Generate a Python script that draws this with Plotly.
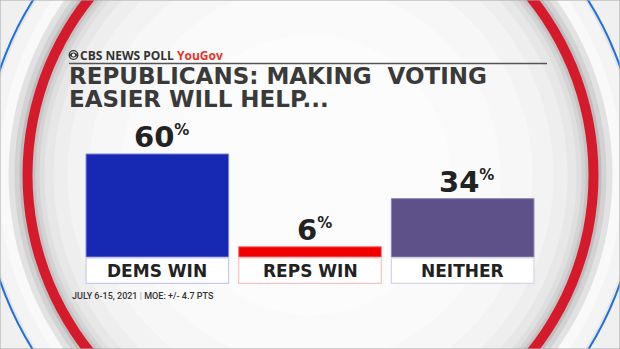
import plotly.graph_objects as go

# ---------------- data ----------------
categories = ["DEMS WIN", "REPS WIN", "NEITHER"]
values = [60, 6, 34]
bar_colors = ["#1728b2", "#f20000", "#5e5189"]
bar_edge = ["#7f86dc", "#ff7070", "#8e84b4"]
box_edge = ["#c6caf0", "#f6c4c4", "#d8d4e8"]
title_lines = ["REPUBLICANS: MAKING  VOTING", "EASIER WILL HELP..."]
header_text = "CBS NEWS POLL"
header_brand = "YouGov"
footer_left = "JULY 6-15, 2021"
footer_right = "MOE: +/- 4.7 PTS"

W, H = 620, 349
BOLD = "DejaVu Sans"
DARK = "#333333"
GAP = 0.066


def px(x):
    return x / W


def py(y):
    return 1 - y / H


def circle(cx, cy, r, fill=None, line_color=None, line_width=0):
    return dict(
        type="circle", xref="paper", yref="paper", layer="below",
        x0=px(cx - r), x1=px(cx + r), y0=py(cy + r), y1=py(cy - r),
        fillcolor=fill if fill else "rgba(0,0,0,0)",
        line=dict(color=line_color if line_color else "rgba(0,0,0,0)", width=line_width),
    )


shapes = []
CX, CY = 310.5, 175
# background rings (outside -> inside)
shapes.append(circle(CX, CY, 328, fill="#e6e6e6", line_color="#1f6fe0", line_width=2))
shapes.append(circle(CX, CY, 325, fill="#f4f4f4"))
shapes.append(circle(CX, CY, 312, fill="#f9f9f9"))
shapes.append(circle(CX, CY, 302, fill="#e2e2e2"))
shapes.append(circle(CX, CY, 296, fill="#d2d2d2"))
shapes.append(circle(CX, CY, 291, fill="#bdbdbd"))
shapes.append(circle(CX, CY, 288, fill="#d51a2b"))
for r, c in [(278, "#c4c4c4"), (275, "#d3d3d3"), (271, "#dfdfdf"), (266, "#e7e7e7"),
             (257, "#eeeeee"), (243, "#f3f3f3"), (222, "#f7f7f7"), (190, "#fafafa"),
             (140, "#fcfcfc")]:
    shapes.append(circle(CX, CY, r, fill=c))
# frame border
shapes.append(dict(type="rect", xref="paper", yref="paper", x0=0, x1=1, y0=0, y1=1,
                   line=dict(color="#a8a8a8", width=1), layer="below"))
# header rule
shapes.append(dict(type="line", xref="paper", yref="paper", x0=px(69), x1=px(547),
                   y0=py(63.5), y1=py(63.5), line=dict(color="#555555", width=1.5)))
# CBS eye logo
ex, ey = 73.5, 55
shapes.append(circle(ex, ey, 4.3, line_color=DARK, line_width=1.3))
shapes[-1]["layer"] = "above"
almond = (f"M {px(ex-4.3)},{py(ey)} Q {px(ex)},{py(ey-4.6)} {px(ex+4.3)},{py(ey)} "
          f"Q {px(ex)},{py(ey+4.6)} {px(ex-4.3)},{py(ey)} Z")
shapes.append(dict(type="path", xref="paper", yref="paper", path=almond,
                   fillcolor=DARK, line=dict(color=DARK, width=0.5)))
shapes.append(circle(ex, ey, 1.6, fill="#ffffff"))
shapes[-1]["layer"] = "above"

# category label boxes (under bars axis coordinates)
for i, c in enumerate(categories):
    shapes.append(dict(type="rect", xref="x", yref="y", layer="above",
                       x0=i - (1 - GAP) / 2, x1=i + (1 - GAP) / 2, y0=-15.3, y1=-0.5,
                       fillcolor="#ffffff", line=dict(color=box_edge[i], width=1.2)))

fig = go.Figure()
fig.add_trace(go.Bar(
    x=categories, y=values,
    marker=dict(color=bar_colors, line=dict(color=bar_edge, width=1)),
    hoverinfo="skip",
))

annotations = []
# value labels
for i, (c, v) in enumerate(zip(categories, values)):
    annotations.append(dict(
        x=c, y=v, xref="x", yref="y", xanchor="center", yanchor="bottom",
        text=f"{v}<sup><span style='font-size:15px'>%</span></sup>",
        showarrow=False, xshift=4, yshift=-2,
        font=dict(family=BOLD, size=29, color="#222222", weight="bold"),
    ))
    annotations.append(dict(
        x=c, y=-7.9, xref="x", yref="y", xanchor="center", yanchor="middle",
        text=c, showarrow=False,
        font=dict(family=BOLD, size=17, color="#222222", weight="bold"),
    ))

# header
annotations.append(dict(
    x=px(78), y=py(55), xref="paper", yref="paper", xanchor="left", yanchor="middle",
    text=f"{header_text} <span style='color:#e5332a'>{header_brand}</span>",
    showarrow=False, font=dict(family="Open Sans", size=12, color=DARK, weight=700),
))
# title
for k, line in enumerate(title_lines):
    annotations.append(dict(
        x=px(67), y=py(76 + 22.5 * k), xref="paper", yref="paper", xanchor="left",
        yanchor="middle", text=line, showarrow=False,
        font=dict(family=BOLD, size=23, color="#3a3a3a", weight="bold"),
    ))
# footer
annotations.append(dict(
    x=px(70), y=py(295.5), xref="paper", yref="paper", xanchor="left", yanchor="middle",
    text=f"{footer_left} <span style='color:#aaaaaa'>|</span> {footer_right}",
    showarrow=False, font=dict(family="Roboto", size=9, color=DARK, weight=500),
))

fig.update_layout(
    width=W, height=H, margin=dict(l=0, r=0, t=0, b=0, pad=0),
    paper_bgcolor="#f0f0f0", plot_bgcolor="rgba(0,0,0,0)",
    showlegend=False, bargap=GAP,
    xaxis=dict(domain=[px(81), px(539)], range=[-0.5, 2.5], visible=False, fixedrange=True),
    yaxis=dict(domain=[py(284.5), py(136.8)], range=[-16, 70], visible=False, fixedrange=True),
    shapes=shapes, annotations=annotations,
)

fig.write_html("out.html", config={"displayModeBar": False})
